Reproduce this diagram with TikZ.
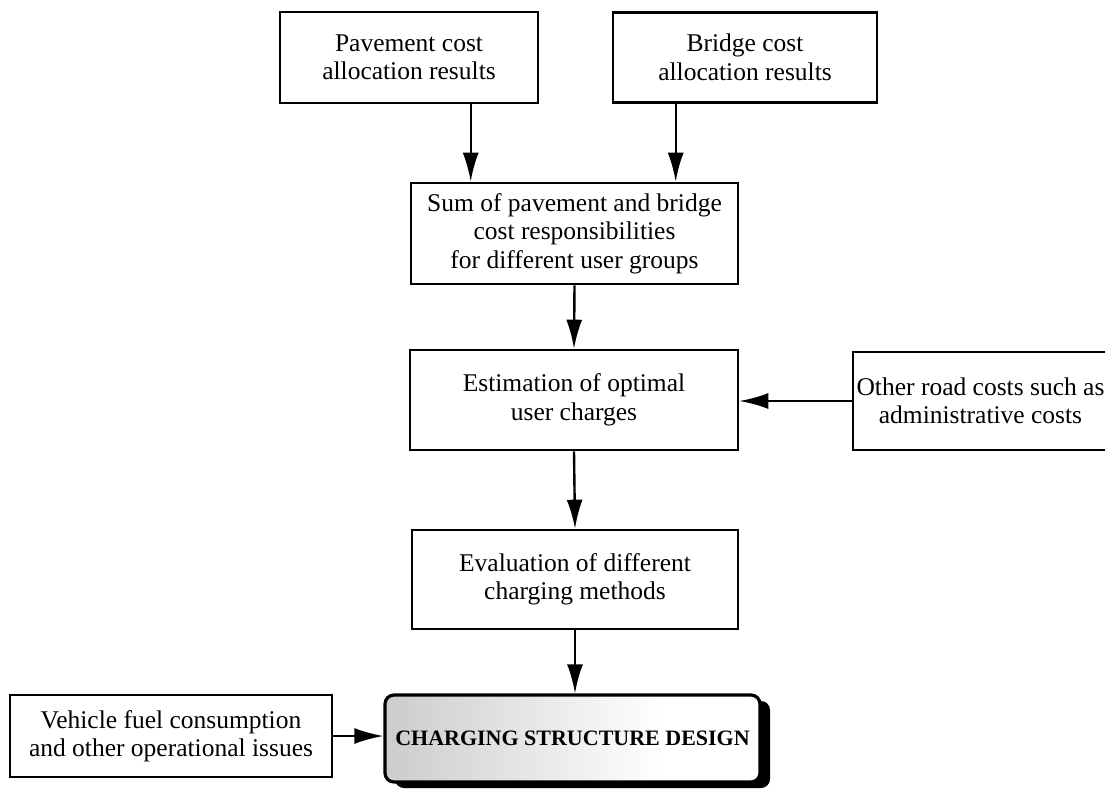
\documentclass[tikz,border=0pt]{standalone}
\usepackage{fontspec}
\setmainfont{Liberation Serif}
\usetikzlibrary{arrows.meta,shadows}
\pgfdeclarehorizontalshading{csdshade}{100bp}{color(0bp)=(gray!40); color(25bp)=(gray!40); color(62bp)=(white); color(100bp)=(white)}
\tikzset{
  box/.style={draw,line width=2.6pt,align=center,
    font=\fontsize{25.5}{28.5}\selectfont,inner sep=0pt},
  finalbox/.style={draw,line width=3.2pt,rounded corners=9pt,
    shading=csdshade,
    drop shadow={fill=black,opacity=1,shadow xshift=10pt,shadow yshift=-6pt},
    font=\bfseries\fontsize{22}{24}\selectfont,inner sep=0pt},
  flow/.style={line width=2.4pt,-{Latex[length=29pt,width=16pt]}}
}
\begin{document}
\begin{tikzpicture}[x=1pt,y=-1pt]
  \useasboundingbox (0,0) rectangle (1105,789);
  \draw
    (409,57.5) node[box,minimum width=258pt,minimum height=91pt] (pav)
      {Pavement cost\\allocation results}
    (745,57.5) node[box,minimum width=264pt,minimum height=90pt] (brg)
      {Bridge cost\\allocation results}
    (574.5,233.5) node[box,minimum width=327pt,minimum height=101pt] (sum)
      {Sum of pavement and bridge\\cost responsibilities\\for different user groups}
    (574,400) node[box,minimum width=328pt,minimum height=100pt] (est)
      {Estimation of optimal\\user charges}
    (980.5,401) node[box,minimum width=255pt,minimum height=98pt] (oth)
      {Other road costs such as\\administrative costs}
    (575,579.5) node[box,minimum width=326pt,minimum height=99pt] (eva)
      {Evaluation of different\\charging methods}
    (171,736) node[box,minimum width=322pt,minimum height=82pt] (veh)
      {Vehicle fuel consumption\\and other operational issues}
    (572.5,738.5) node[finalbox,minimum width=375pt,minimum height=87pt] (csd)
      {CHARGING STRUCTURE DESIGN};
  \coordinate (inpav) at ([xshift=61pt]sum.north west);
  \coordinate (inbrg) at ([xshift=266pt]sum.north west);
  \begin{scope}[flow]
    \draw (pav.south -| inpav) to (inpav);
    \draw (brg.south -| inbrg) to (inbrg);
    \draw (sum.south) to (est.north);
    \draw (oth.west) to (oth.west -| est.east);
    \draw (est.south) to (eva.north);
    \draw (eva.south) to (eva.south |- csd.north);
    \draw (veh.east) to (veh.east -| csd.west);
  \end{scope}
\end{tikzpicture}
\end{document}
